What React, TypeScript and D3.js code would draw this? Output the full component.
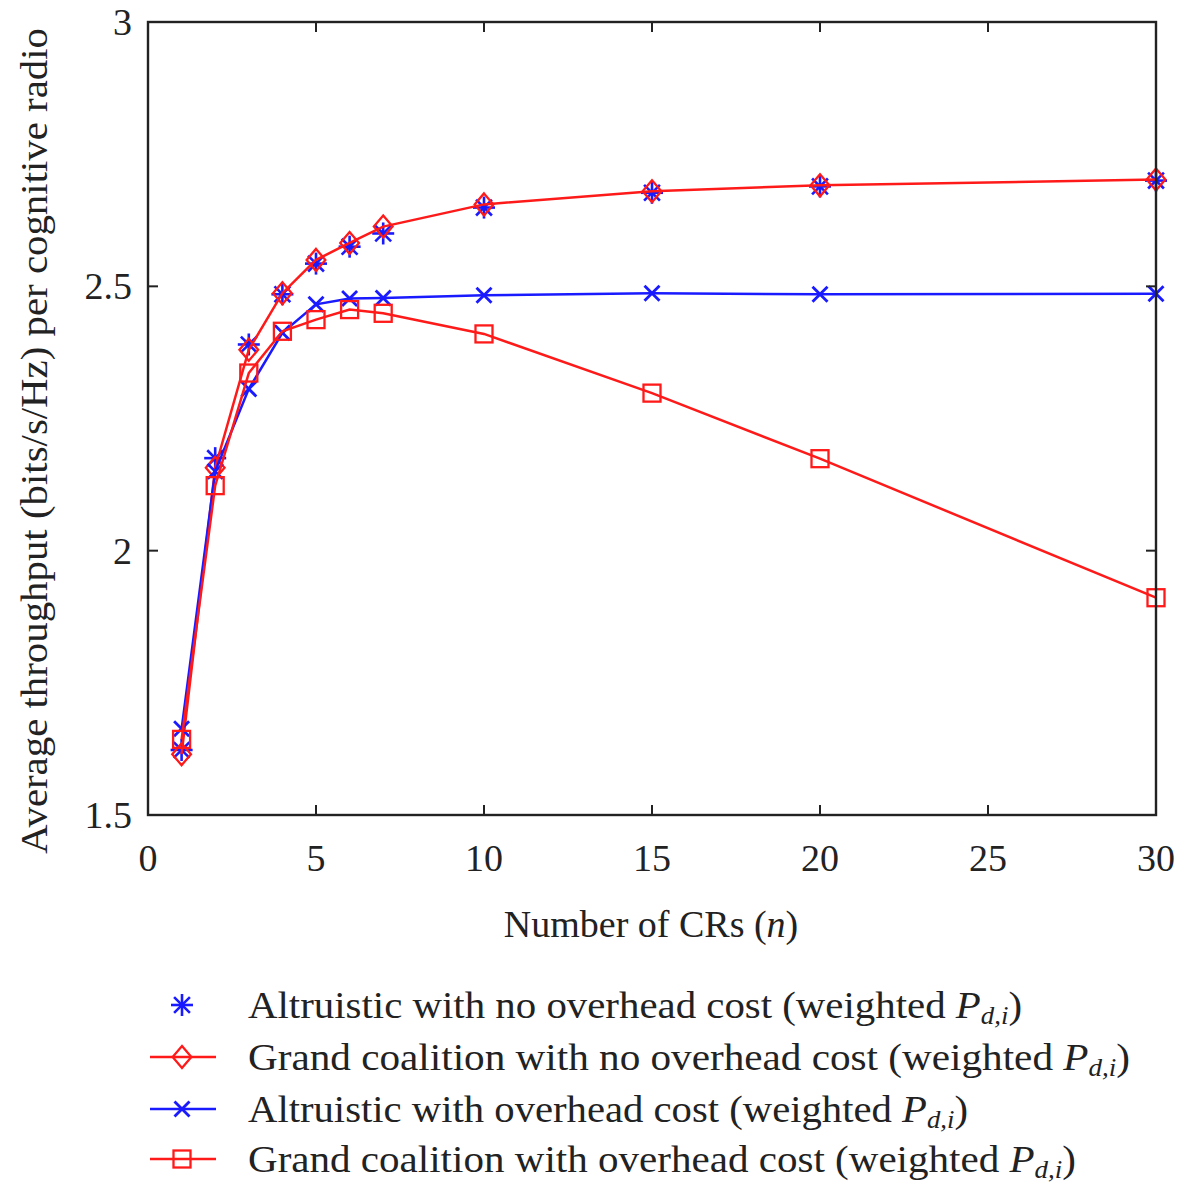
import React from "react";
import * as d3 from "d3";

const nValues = [1, 2, 3, 4, 5, 6, 7, 10, 15, 20, 30];
const altruisticNoOverhead = [1.623, 2.175, 2.39, 2.485, 2.543, 2.575, 2.6, 2.649, 2.677, 2.689, 2.7];
const grandNoOverhead = [1.615, 2.157, 2.38, 2.487, 2.55, 2.582, 2.613, 2.655, 2.68, 2.691, 2.702];
const altruisticOverhead = [1.663, 2.15, 2.306, 2.412, 2.466, 2.477, 2.478, 2.483, 2.487, 2.485, 2.486];
const grandOverhead = [1.643, 2.123, 2.336, 2.415, 2.437, 2.456, 2.449, 2.41, 2.298, 2.174, 1.911];

const xTicks = [0, 5, 10, 15, 20, 25, 30];
const yTicks = [1.5, 2, 2.5, 3];

const legendLabels = [
  "Altruistic with no overhead cost (weighted ",
  "Grand coalition with no overhead cost (weighted ",
  "Altruistic with overhead cost (weighted ",
  "Grand coalition with overhead cost (weighted ",
];

const RED = "#ff1a1a";
const BLUE = "#1a1aff";
const FONT = "Liberation Serif, Times New Roman, Times, DejaVu Serif, serif";

type MarkerKind = "asterisk" | "diamond" | "x" | "square";

function Marker({ kind, cx, cy, color }: { kind: MarkerKind; cx: number; cy: number; color: string }) {
  const sw = 2.3;
  if (kind === "asterisk") {
    const r = 11;
    const d = r * 0.72;
    return (
      <g stroke={color} strokeWidth={sw + 0.3} fill="none">
        <line x1={cx - r} y1={cy} x2={cx + r} y2={cy} />
        <line x1={cx} y1={cy - r} x2={cx} y2={cy + r} />
        <line x1={cx - d} y1={cy - d} x2={cx + d} y2={cy + d} />
        <line x1={cx - d} y1={cy + d} x2={cx + d} y2={cy - d} />
      </g>
    );
  }
  if (kind === "diamond") {
    const r = 11;
    return (
      <path
        d={`M${cx},${cy - r}L${cx + r * 0.85},${cy}L${cx},${cy + r}L${cx - r * 0.85},${cy}Z`}
        stroke={color}
        strokeWidth={sw}
        fill="none"
      />
    );
  }
  if (kind === "x") {
    const r = 7.5;
    return (
      <g stroke={color} strokeWidth={sw + 0.5} fill="none">
        <line x1={cx - r} y1={cy - r} x2={cx + r} y2={cy + r} />
        <line x1={cx - r} y1={cy + r} x2={cx + r} y2={cy - r} />
      </g>
    );
  }
  const h = 8.5;
  return <rect x={cx - h} y={cy - h} width={2 * h} height={2 * h} stroke={color} strokeWidth={sw} fill="none" />;
}

export default function App() {
  const W = 1180;
  const H = 1183;
  const left = 148;
  const right = 1156;
  const top = 22;
  const bottom = 815;

  const x = d3.scaleLinear().domain([0, 30]).range([left, right]);
  const y = d3.scaleLinear().domain([1.5, 3]).range([bottom, top]);

  const line = d3
    .line<[number, number]>()
    .x((d) => x(d[0]))
    .y((d) => y(d[1]));

  const series = [
    { values: altruisticNoOverhead, color: BLUE, marker: "asterisk" as MarkerKind, showLine: false },
    { values: grandNoOverhead, color: RED, marker: "diamond" as MarkerKind, showLine: true },
    { values: altruisticOverhead, color: BLUE, marker: "x" as MarkerKind, showLine: true },
    { values: grandOverhead, color: RED, marker: "square" as MarkerKind, showLine: true },
  ];

  const tickLen = 10;
  const legendY = [1005, 1057, 1109, 1159];
  const legendWidths = [774, 882, 720, 828];
  const textStyle = { fontFamily: FONT } as React.CSSProperties;

  return (
    <svg width={W} height={H} style={{ position: "absolute", left: 0, top: 0, background: "#fff" }}>
      <rect x={0} y={0} width={W} height={H} fill="#fff" />
      {series.map((s, i) => {
        const pts: [number, number][] = nValues.map((n, j) => [n, s.values[j]]);
        return (
          <g key={i}>
            {s.showLine && <path d={line(pts) || ""} stroke={s.color} strokeWidth={2.5} fill="none" />}
            {pts.map((p, j) => (
              <Marker key={j} kind={s.marker} cx={x(p[0])} cy={y(p[1])} color={s.color} />
            ))}
          </g>
        );
      })}
      <rect x={left} y={top} width={right - left} height={bottom - top} fill="none" stroke="#222" strokeWidth={2.4} />
      {xTicks.map((t) => (
        <g key={`xt${t}`} stroke="#222" strokeWidth={2}>
          <line x1={x(t)} y1={bottom} x2={x(t)} y2={bottom - tickLen} />
          <line x1={x(t)} y1={top} x2={x(t)} y2={top + tickLen} />
        </g>
      ))}
      {yTicks.map((t) => (
        <g key={`yt${t}`} stroke="#222" strokeWidth={2}>
          <line x1={left} y1={y(t)} x2={left + tickLen} y2={y(t)} />
          <line x1={right} y1={y(t)} x2={right - tickLen} y2={y(t)} />
        </g>
      ))}
      {xTicks.map((t) => (
        <text key={`xl${t}`} x={x(t)} y={871} textAnchor="middle" style={textStyle} fontSize={38} fill="#222">
          {t}
        </text>
      ))}
      {yTicks.map((t) => (
        <text key={`yl${t}`} x={132} y={y(t) + 13} textAnchor="end" style={textStyle} fontSize={38} fill="#222">
          {d3.format("")(t)}
        </text>
      ))}
      <text x={651} y={937} textAnchor="middle" style={textStyle} fontSize={38} fill="#222">
        Number of CRs (<tspan fontStyle="italic">n</tspan>)
      </text>
      <text
        transform={`translate(47, 441) rotate(-90)`}
        textAnchor="middle"
        style={textStyle}
        fontSize={38}
        fill="#222"
        textLength={826}
        lengthAdjust="spacingAndGlyphs"
      >
        Average throughput (bits/s/Hz) per cognitive radio
      </text>
      {series.map((s, i) => {
        const cy = legendY[i];
        return (
          <g key={`lg${i}`}>
            {s.showLine && <line x1={150} y1={cy} x2={216} y2={cy} stroke={s.color} strokeWidth={2.5} />}
            <Marker kind={s.marker} cx={182} cy={cy} color={s.color} />
            <text
              x={248}
              y={cy + 13}
              style={textStyle}
              fontSize={38}
              fill="#222"
              textLength={legendWidths[i]}
              lengthAdjust="spacingAndGlyphs"
            >
              {legendLabels[i]}
              <tspan fontStyle="italic">P</tspan>
              <tspan fontStyle="italic" fontSize={25} dy={6}>
                d,i
              </tspan>
              <tspan dy={-6}>)</tspan>
            </text>
          </g>
        );
      })}
    </svg>
  );
}
